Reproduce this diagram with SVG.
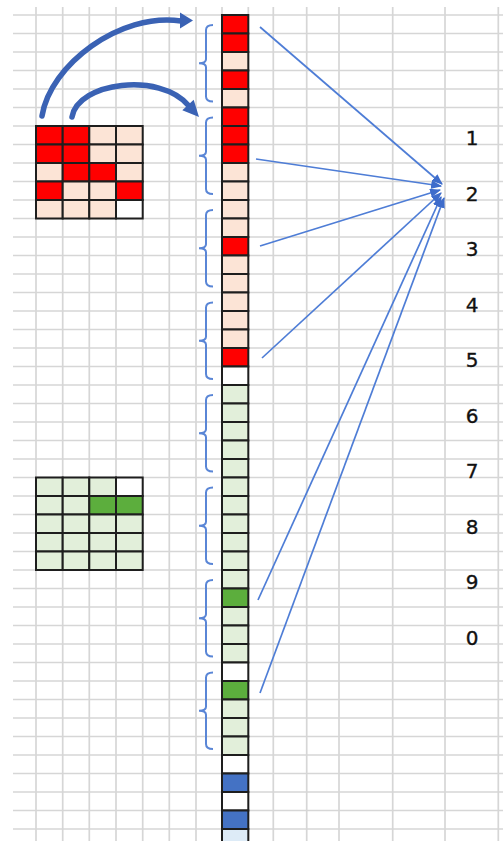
<svg xmlns="http://www.w3.org/2000/svg" width="503" height="841" viewBox="0 0 503 841">
<defs>
<style>
.grid{stroke:#D6D6D6;stroke-width:1.7;fill:none}
.c{stroke:#1E1E1E;stroke-width:2}
.r{fill:#FF0000}.p{fill:#FCE4D6}.g{fill:#E2EFDA}.d{fill:#5CAE3D}.w{fill:#FFFFFF}.b{fill:#4472C4}.lb{fill:#DDEBF7}
.br{stroke:#5A86D6;stroke-width:2;fill:none}
.conn{stroke:#4E7DD6;stroke-width:1.7;fill:none}
.big{stroke:#3A62B4;stroke-width:5.5;fill:none;stroke-linecap:round}
.num{font-family:"DejaVu Sans",sans-serif;font-size:20px;fill:#111;stroke:#111;stroke-width:0.35;text-anchor:middle}
</style>
<marker id="ah" viewBox="0 0 10 8" refX="9" refY="4" markerWidth="11" markerHeight="9" markerUnits="userSpaceOnUse" orient="auto">
<path d="M0,0 L10,4 L0,8 Z" fill="#3E6CCB"/>
</marker>
</defs>
<rect width="503" height="841" fill="#FFFFFF"/>
<g id="sheet-grid" class="grid">
<path d="M13,15H503M13,33.5H503M13,52H503M13,70.5H503M13,89H503M13,107.5H503M13,126H503M13,144.5H503M13,163H503M13,181.5H503M13,200H503M13,218.5H503M13,237H503M13,255.5H503M13,274H503M13,292.5H503M13,311H503M13,329.5H503M13,348H503M13,366.5H503M13,385H503M13,403.5H503M13,422H503M13,440.5H503M13,459H503M13,477.5H503M13,496H503M13,514.5H503M13,533H503M13,551.5H503M13,570H503M13,588.5H503M13,607H503M13,625.5H503M13,644H503M13,662.5H503M13,681H503M13,699.5H503M13,718H503M13,736.5H503M13,755H503M13,773.5H503M13,792H503M13,810.5H503M13,829H503"/>
<path d="M36,7V841M62.7,7V841M89.3,7V841M116,7V841M142.7,7V841M169.3,7V841M196,7V841M222,7V841M248.3,7V841M273.3,7V841M306.7,7V841M339,7V841M392.7,7V841M445,7V841M498.3,7V841"/>
</g>
<g id="red-grid" class="c">
<rect class="r" x="36" y="126" width="26.7" height="18.5"/><rect class="r" x="62.7" y="126" width="26.6" height="18.5"/><rect class="p" x="89.3" y="126" width="26.7" height="18.5"/><rect class="p" x="116" y="126" width="26.7" height="18.5"/>
<rect class="r" x="36" y="144.5" width="26.7" height="18.5"/><rect class="r" x="62.7" y="144.5" width="26.6" height="18.5"/><rect class="p" x="89.3" y="144.5" width="26.7" height="18.5"/><rect class="p" x="116" y="144.5" width="26.7" height="18.5"/>
<rect class="p" x="36" y="163" width="26.7" height="18.5"/><rect class="r" x="62.7" y="163" width="26.6" height="18.5"/><rect class="r" x="89.3" y="163" width="26.7" height="18.5"/><rect class="p" x="116" y="163" width="26.7" height="18.5"/>
<rect class="r" x="36" y="181.5" width="26.7" height="18.5"/><rect class="p" x="62.7" y="181.5" width="26.6" height="18.5"/><rect class="p" x="89.3" y="181.5" width="26.7" height="18.5"/><rect class="r" x="116" y="181.5" width="26.7" height="18.5"/>
<rect class="p" x="36" y="200" width="26.7" height="18.5"/><rect class="p" x="62.7" y="200" width="26.6" height="18.5"/><rect class="p" x="89.3" y="200" width="26.7" height="18.5"/><rect class="w" x="116" y="200" width="26.7" height="18.5"/>
</g>
<g id="green-grid" class="c">
<rect class="g" x="36" y="477.5" width="26.7" height="18.5"/><rect class="g" x="62.7" y="477.5" width="26.6" height="18.5"/><rect class="g" x="89.3" y="477.5" width="26.7" height="18.5"/><rect class="w" x="116" y="477.5" width="26.7" height="18.5"/>
<rect class="g" x="36" y="496" width="26.7" height="18.5"/><rect class="g" x="62.7" y="496" width="26.6" height="18.5"/><rect class="d" x="89.3" y="496" width="26.7" height="18.5"/><rect class="d" x="116" y="496" width="26.7" height="18.5"/>
<rect class="g" x="36" y="514.5" width="26.7" height="18.5"/><rect class="g" x="62.7" y="514.5" width="26.6" height="18.5"/><rect class="g" x="89.3" y="514.5" width="26.7" height="18.5"/><rect class="g" x="116" y="514.5" width="26.7" height="18.5"/>
<rect class="g" x="36" y="533" width="26.7" height="18.5"/><rect class="g" x="62.7" y="533" width="26.6" height="18.5"/><rect class="g" x="89.3" y="533" width="26.7" height="18.5"/><rect class="g" x="116" y="533" width="26.7" height="18.5"/>
<rect class="g" x="36" y="551.5" width="26.7" height="18.5"/><rect class="g" x="62.7" y="551.5" width="26.6" height="18.5"/><rect class="g" x="89.3" y="551.5" width="26.7" height="18.5"/><rect class="g" x="116" y="551.5" width="26.7" height="18.5"/>
</g>
<g id="column" class="c">
<rect class="r" x="222" y="15" width="26.3" height="18.5"/>
<rect class="r" x="222" y="33.5" width="26.3" height="18.5"/>
<rect class="p" x="222" y="52" width="26.3" height="18.5"/>
<rect class="r" x="222" y="70.5" width="26.3" height="18.5"/>
<rect class="p" x="222" y="89" width="26.3" height="18.5"/>
<rect class="r" x="222" y="107.5" width="26.3" height="18.5"/>
<rect class="r" x="222" y="126" width="26.3" height="18.5"/>
<rect class="r" x="222" y="144.5" width="26.3" height="18.5"/>
<rect class="p" x="222" y="163" width="26.3" height="18.5"/>
<rect class="p" x="222" y="181.5" width="26.3" height="18.5"/>
<rect class="p" x="222" y="200" width="26.3" height="18.5"/>
<rect class="p" x="222" y="218.5" width="26.3" height="18.5"/>
<rect class="r" x="222" y="237" width="26.3" height="18.5"/>
<rect class="p" x="222" y="255.5" width="26.3" height="18.5"/>
<rect class="p" x="222" y="274" width="26.3" height="18.5"/>
<rect class="p" x="222" y="292.5" width="26.3" height="18.5"/>
<rect class="p" x="222" y="311" width="26.3" height="18.5"/>
<rect class="p" x="222" y="329.5" width="26.3" height="18.5"/>
<rect class="r" x="222" y="348" width="26.3" height="18.5"/>
<rect class="w" x="222" y="366.5" width="26.3" height="18.5"/>
<rect class="g" x="222" y="385" width="26.3" height="18.5"/>
<rect class="g" x="222" y="403.5" width="26.3" height="18.5"/>
<rect class="g" x="222" y="422" width="26.3" height="18.5"/>
<rect class="g" x="222" y="440.5" width="26.3" height="18.5"/>
<rect class="g" x="222" y="459" width="26.3" height="18.5"/>
<rect class="g" x="222" y="477.5" width="26.3" height="18.5"/>
<rect class="g" x="222" y="496" width="26.3" height="18.5"/>
<rect class="g" x="222" y="514.5" width="26.3" height="18.5"/>
<rect class="g" x="222" y="533" width="26.3" height="18.5"/>
<rect class="g" x="222" y="551.5" width="26.3" height="18.5"/>
<rect class="g" x="222" y="570" width="26.3" height="18.5"/>
<rect class="d" x="222" y="588.5" width="26.3" height="18.5"/>
<rect class="g" x="222" y="607" width="26.3" height="18.5"/>
<rect class="g" x="222" y="625.5" width="26.3" height="18.5"/>
<rect class="g" x="222" y="644" width="26.3" height="18.5"/>
<rect class="w" x="222" y="662.5" width="26.3" height="18.5"/>
<rect class="d" x="222" y="681" width="26.3" height="18.5"/>
<rect class="g" x="222" y="699.5" width="26.3" height="18.5"/>
<rect class="g" x="222" y="718" width="26.3" height="18.5"/>
<rect class="g" x="222" y="736.5" width="26.3" height="18.5"/>
<rect class="w" x="222" y="755" width="26.3" height="18.5"/>
<rect class="b" x="222" y="773.5" width="26.3" height="18.5"/>
<rect class="w" x="222" y="792" width="26.3" height="18.5"/>
<rect class="b" x="222" y="810.5" width="26.3" height="18.5"/>
<rect class="lb" x="222" y="829" width="26.3" height="18.5"/>
</g>
<g id="brackets" class="br">
<path d="M213,25Q206,25 206,30V59.3Q206,63.3 199,63.3Q206,63.3 206,67.3V96.5Q206,101.5 213,101.5"/>
<path d="M213,117.5Q206,117.5 206,122.5V151.8Q206,155.8 199,155.8Q206,155.8 206,159.8V189Q206,194 213,194"/>
<path d="M213,210Q206,210 206,215V244.3Q206,248.3 199,248.3Q206,248.3 206,252.3V281.5Q206,286.5 213,286.5"/>
<path d="M213,302.5Q206,302.5 206,307.5V336.8Q206,340.8 199,340.8Q206,340.8 206,344.8V374Q206,379 213,379"/>
<path d="M213,395Q206,395 206,400V429.3Q206,433.3 199,433.3Q206,433.3 206,437.3V466.5Q206,471.5 213,471.5"/>
<path d="M213,487.5Q206,487.5 206,492.5V521.8Q206,525.8 199,525.8Q206,525.8 206,529.8V559Q206,564 213,564"/>
<path d="M213,580Q206,580 206,585V614.3Q206,618.3 199,618.3Q206,618.3 206,622.3V651.5Q206,656.5 213,656.5"/>
<path d="M213,672.5Q206,672.5 206,677.5V706.8Q206,710.8 199,710.8Q206,710.8 206,714.8V744Q206,749 213,749"/>
</g>
<g id="numbers" class="num">
<text x="472" y="145">1</text>
<text x="472" y="200.5">2</text>
<text x="472" y="256">3</text>
<text x="472" y="311.5">4</text>
<text x="472" y="367">5</text>
<text x="472" y="422.5">6</text>
<text x="472" y="478">7</text>
<text x="472" y="533.5">8</text>
<text x="472" y="589">9</text>
<text x="472" y="644.5">0</text>
</g>
<g id="connectors">
<g class="conn" marker-end="url(#ah)">
<line x1="260" y1="27" x2="442" y2="184"/>
<line x1="256" y1="159" x2="441" y2="186"/>
<line x1="260" y1="246" x2="440" y2="190"/>
<line x1="262" y1="358" x2="441" y2="193"/>
<line x1="258" y1="600" x2="441" y2="197"/>
<line x1="260" y1="693" x2="444" y2="198"/>
</g>
<path class="big" d="M42,116C50,65 120,12 181,21"/>
<polygon points="180,12.5 193,20.5 180,28.5" fill="#3A62B4"/>
<path class="big" d="M72,117C78,82 160,72 188,105"/>
<polygon points="182.3,110.2 193.7,99.8 199,117" fill="#3A62B4"/>
</g>
</svg>
